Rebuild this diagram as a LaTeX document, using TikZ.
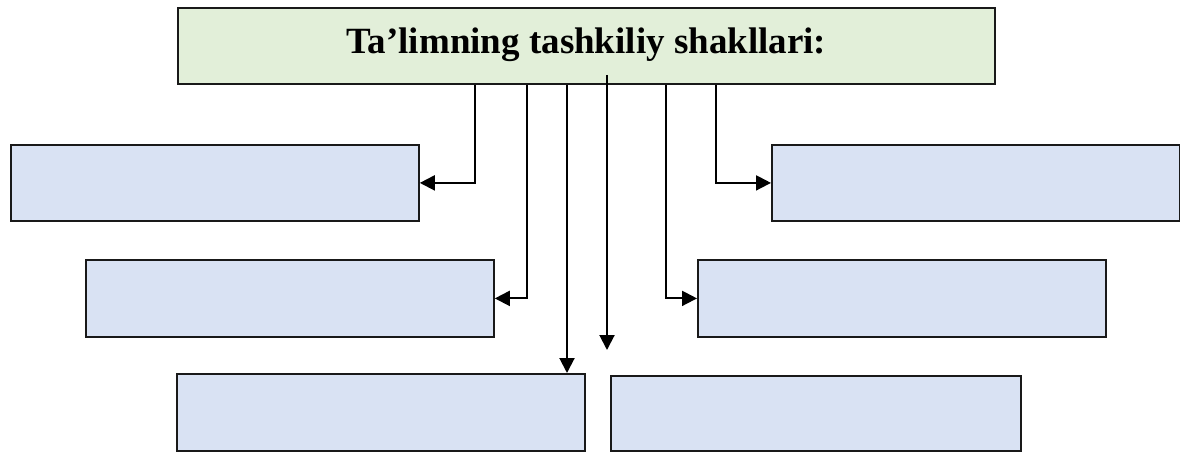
\documentclass[tikz,border=0pt]{standalone}
\usepackage{fontspec}
\setmainfont{Liberation Serif}
\usepackage{xcolor}
\usetikzlibrary{arrows.meta, positioning}

\definecolor{titlegreen}{HTML}{E2EFD9}
\definecolor{formblue}{HTML}{D9E2F3}

\begin{document}
\begin{tikzpicture}[x=1pt,y=1pt,>={Triangle[length=15pt,width=15pt]},
    box/.style={draw=black!90, line width=1.8pt, inner sep=0pt, anchor=north west},
    formbox/.style={box, fill=formblue},
    link/.style={line width=2pt, ->}]
    \useasboundingbox (0,0) rectangle (1180,-452);

    % title
    \node[box, fill=titlegreen, minimum width=817pt, minimum height=76pt] (title) at (177,-7)
        {\raisebox{-7.5pt}[0pt][0pt]{\fontsize{37}{44}\selectfont\bfseries Ta’limning tashkiliy shakllari:}};

    % empty boxes
    \node[formbox, minimum width=408pt, minimum height=76pt] (f1) at (10,-144) {};
    \node[formbox, minimum width=408pt, minimum height=77pt] (f2) at (85,-259) {};
    \node[formbox, minimum width=408pt, minimum height=76pt] (f3) at (771,-144) {};
    \node[formbox, minimum width=408pt, minimum height=77pt] (f4) at (697,-259) {};
    \node[formbox, minimum width=408pt, minimum height=77pt] (f5) at (176,-373) {};
    \node[formbox, minimum width=410pt, minimum height=75pt] (f6) at (610,-375) {};
    \coordinate (gap) at (607,-350);

    % arrows
    \draw[link] (475,0 |- title.south) |- (f1);
    \draw[link] (527,0 |- title.south) |- (f2);
    \draw[link] (716,0 |- title.south) |- (f3);
    \draw[link] (666,0 |- title.south) |- (f4);
    \draw[link] (567,0 |- title.south) -- (567,0 |- f5.north);
    \draw[link] ([yshift=10pt]title.south -| gap) -- (gap);
\end{tikzpicture}
\end{document}
